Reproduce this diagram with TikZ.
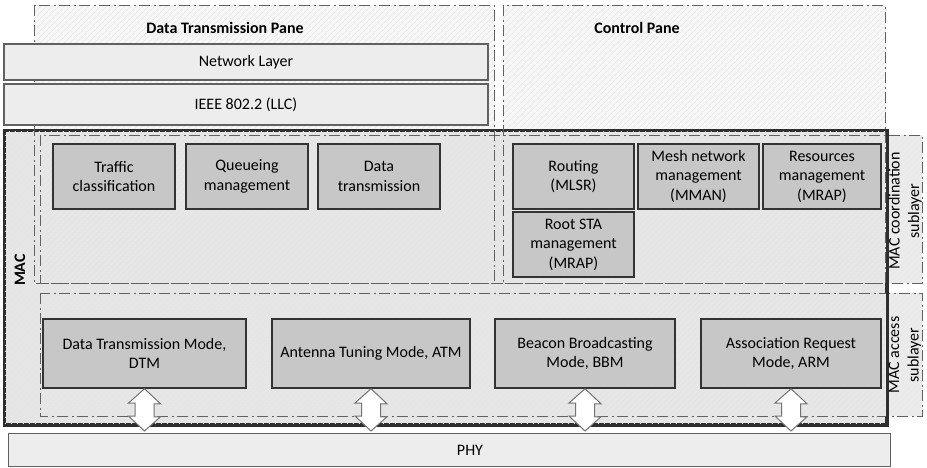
\documentclass[tikz,border=0pt]{standalone}
\usepackage{fontspec}
\setmainfont{Carlito}
\usetikzlibrary{calc,patterns.meta}

\newcommand\boxfont{\fontsize{16}{19.5}\selectfont}

\tikzset{
  pane/.style={draw=black!62, line width=1pt,
    dash pattern=on 11pt off 3.5pt on 2pt off 3.5pt},
  hatch/.style={pattern={Lines[angle=45, distance=4pt, line width=0.7pt]},
    pattern color=black!9},
  layerbox/.style={draw=black!62, fill=black!7, line width=1.2pt,
    inner sep=0pt, font=\boxfont},
  funcbox/.style={draw=black!80, fill=black!22, line width=1.5pt,
    align=center, inner sep=2pt, font=\boxfont},
  macbox/.style={draw=black!82, fill=black!10, line width=2.4pt},
  title/.style={font=\boxfont\bfseries},
  sidelabel/.style={font=\boxfont\bfseries, rotate=90, align=center},
  sublabel/.style={font=\boxfont, rotate=90, align=center},
  bidir/.style={draw=black!55, fill=white, line width=1pt, line join=miter},
}

\begin{document}
\begin{tikzpicture}[x=1pt, y=-1pt]
\useasboundingbox (0,0) rectangle (927,467);
\fill[white] (0,0) rectangle (927,467);

% the two panes
\fill[black!3] (34,5) rectangle (494,283);
\fill[black!3] (503,5) rectangle (885,283);
\fill[hatch] (34,5) rectangle (494,283);
\fill[hatch] (503,5) rectangle (885,283);

% MAC layer frame
\node[macbox, minimum width=881pt, minimum height=293pt, inner sep=0pt,
      anchor=north west] (mac) at (4,130) {};

% sublayer frames
\fill[black!8] (885,135) rectangle (922,283);
\fill[black!8] (885,293) rectangle (922,416);
\fill[hatch] (40,135) rectangle (922,283);
\fill[hatch] (40,293) rectangle (922,416);
\fill[hatch] (4,130) rectangle (885,423);
\draw[pane] (40,135) rectangle (922,283);
\draw[pane] (40,293) rectangle (922,416);
\draw[draw=black!82, line width=2.4pt] (mac.north west) rectangle (mac.south east);

\draw[pane] (34,5) rectangle (494,283);
\draw[pane] (503,5) rectangle (885,283);

\node[sidelabel] (maclbl) at (20,270) {MAC};
\node[title] (dtp) at (225,28) {Data Transmission Pane};
\node[title] (cp) at (637,28) {Control Pane};

% upper protocol layers
\node[layerbox, minimum width=484pt, minimum height=36pt] (net) at (246,62) {Network Layer};
\node[layerbox, minimum width=484pt, minimum height=41pt] (llc) at (246,104.5) {IEEE 802.2 (LLC)};

% coordination sublayer functions
\node[funcbox, minimum width=122pt, minimum height=65pt] (tc) at (114,176.5) {Traffic\\classification};
\node[funcbox, minimum width=122pt, minimum height=65pt] (qm) at (247,176.5) {Queueing\\management};
\node[funcbox, minimum width=122pt, minimum height=65pt] (dt) at (379,176.5) {Data\\transmission};

\node[funcbox, minimum width=121pt, minimum height=65pt] (rt) at (573.5,176.5) {Routing\\(MLSR)};
\node[funcbox, minimum width=121pt, minimum height=65pt] (mm) at (698.5,176.5) {Mesh network\\management\\(MMAN)};
\node[funcbox, minimum width=118pt, minimum height=65pt] (rm) at (822,176.5) {Resources\\management\\(MRAP)};
\node[funcbox, minimum width=121pt, minimum height=65pt] (rs) at (573.5,244.5) {Root STA\\management\\(MRAP)};

\node[sublabel] (coordlbl) at (905,211) {MAC coordination\\sublayer};

% access sublayer modes
\node[funcbox, minimum width=203pt, minimum height=69pt] (dtm) at (144.5,353.5) {Data Transmission Mode,\\DTM};
\node[funcbox, minimum width=198pt, minimum height=69pt] (atm) at (371,353.5) {Antenna Tuning Mode, ATM};
\node[funcbox, minimum width=180pt, minimum height=69pt] (bbm) at (585,353.5) {Beacon Broadcasting\\Mode, BBM};
\node[funcbox, minimum width=180pt, minimum height=69pt] (arm) at (791,353.5) {Association Request\\Mode, ARM};

\node[sublabel] (acclbl) at (905,355) {MAC access\\sublayer};

% physical layer
\node[layerbox, minimum width=882pt, minimum height=33pt, anchor=north west] (phy) at (8,433) {};
\node[font=\boxfont] (phylbl) at (470,450) {PHY};

% block double arrows between the access modes and the PHY
\foreach \m in {dtm, atm, bbm, arm}
  \draw[bidir] (\m.south) -- ++(16,15) -- ++(-6.5,0) -- ++(0,13) -- ++(6.5,0)
    -- ($(\m.south |- phy.north)+(0,-2)$) -- ++(-16,-15) -- ++(6.5,0)
    -- ++(0,-13) -- ++(-6.5,0) -- cycle;
\end{tikzpicture}
\end{document}
